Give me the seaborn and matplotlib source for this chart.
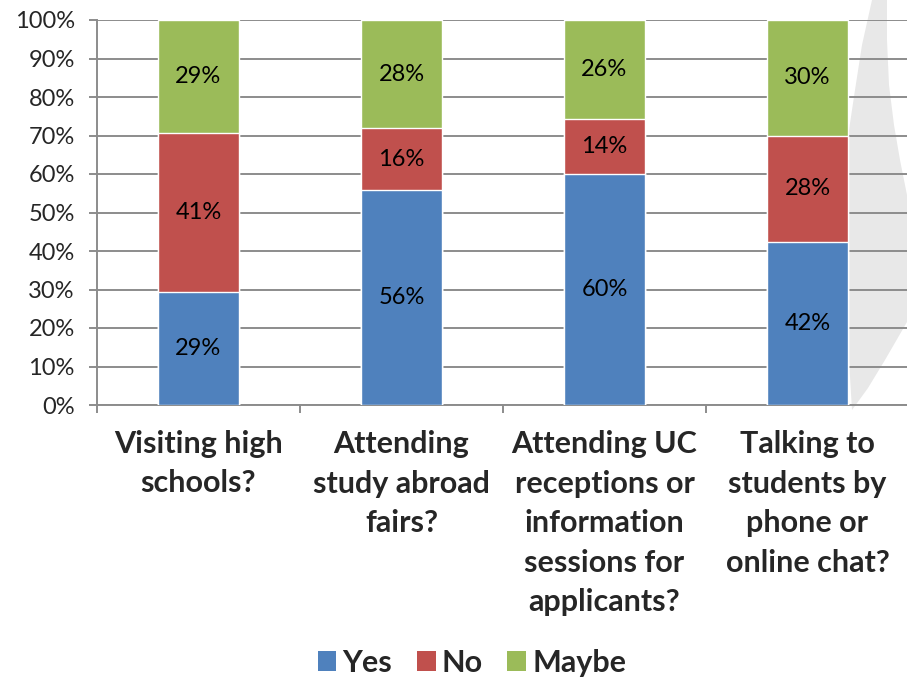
import matplotlib
matplotlib.use("Agg")
import matplotlib.pyplot as plt
import numpy as np
import seaborn as sns
from matplotlib.patches import Patch, Polygon

# survey answers, share of respondents (%)
categories = [
    "Visiting high\nschools?",
    "Attending\nstudy abroad\nfairs?",
    "Attending UC\nreceptions or\ninformation\nsessions for\napplicants?",
    "Talking to\nstudents by\nphone or\nonline chat?",
]
yes = [29.4, 55.8, 60.1, 42.4]
no = [41.2, 16.1, 14.3, 27.6]
maybe = [29.4, 28.1, 25.6, 30.0]

series_names = ["Yes", "No", "Maybe"]
colors = ["#4F81BD", "#C0504D", "#9BBB59"]
grid_color = "#8C8C8C"

sns.set_theme(style="white")
plt.rcParams["font.family"] = ["Lato", "DejaVu Sans"]

W, H = 907, 678
fig = plt.figure(figsize=(W / 100, H / 100), dpi=100)
fig.patch.set_facecolor("white")

# light grey decorative swoosh on the right (background watermark)
swoosh_px = [
    (872, 0), (862, 45), (855, 90), (849, 130), (846, 180), (846, 240),
    (847, 300), (849, 360), (852, 410), (868, 388), (885, 360), (907, 322),
    (907, 195), (900, 160), (894, 125), (889, 85), (887, 40), (887, 0),
]
swoosh = Polygon([(x / W, 1 - y / H) for x, y in swoosh_px], closed=True,
                 transform=fig.transFigure, facecolor="#E8E8E8",
                 edgecolor="none", zorder=-5)
fig.patches.append(swoosh)

ax = fig.add_axes([97 / W, (H - 405) / H, 812 / W, 385 / H])
ax.set_facecolor("none")

# stacked bars drawn as cumulative layers, tallest first
stack = np.cumsum(np.array([yes, no, maybe]), axis=0)
for level in range(2, -1, -1):
    sns.barplot(x=categories, y=stack[level], color=colors[level], width=0.4,
                saturation=1, ax=ax, zorder=3)

for i in range(len(categories)):
    bottom = 0
    for vals in (yes, no, maybe):
        ax.text(i, bottom + vals[i] / 2, f"{vals[i]:.0f}%", ha="center",
                va="center", fontsize=17, color="black", zorder=5)
        bottom += vals[i]

ax.set_xlim(-0.5, len(categories) - 0.5)
ax.set_ylim(0, 100)
ax.set_yticks(np.arange(0, 101, 10))
ax.set_yticklabels([f"{t}%" for t in range(0, 101, 10)])
ax.yaxis.grid(True, color=grid_color, linewidth=1.4)
ax.set_axisbelow(True)

for side in ("top", "right"):
    ax.spines[side].set_visible(False)
for side in ("left", "bottom"):
    ax.spines[side].set_color(grid_color)
    ax.spines[side].set_linewidth(1.4)

ax.set_xticks(np.arange(-0.5, len(categories), 1.0), minor=True)
ax.tick_params(axis="x", which="major", length=0, pad=18)
ax.tick_params(axis="x", which="minor", length=6, width=1.4, color=grid_color,
               direction="out", bottom=True)
ax.tick_params(axis="y", length=6, width=1.4, color=grid_color,
               direction="out", left=True, labelsize=17, pad=10)
for lab in ax.get_xticklabels():
    lab.set_fontsize(22)
    lab.set_fontweight("bold")
    lab.set_linespacing(1.5)
    lab.set_verticalalignment("top")
ax.set_xlabel("")
ax.set_ylabel("")

handles = [Patch(facecolor=c, edgecolor="none") for c in colors]
fig.legend(handles, series_names, loc="center", bbox_to_anchor=(472 / W, 15 / H),
           ncol=3, frameon=False, handlelength=0.62, handleheight=0.62,
           handletextpad=0.2, columnspacing=0.8,
           prop={"size": 22, "weight": "bold"})

fig.savefig("out.png", dpi=100, facecolor="white")
